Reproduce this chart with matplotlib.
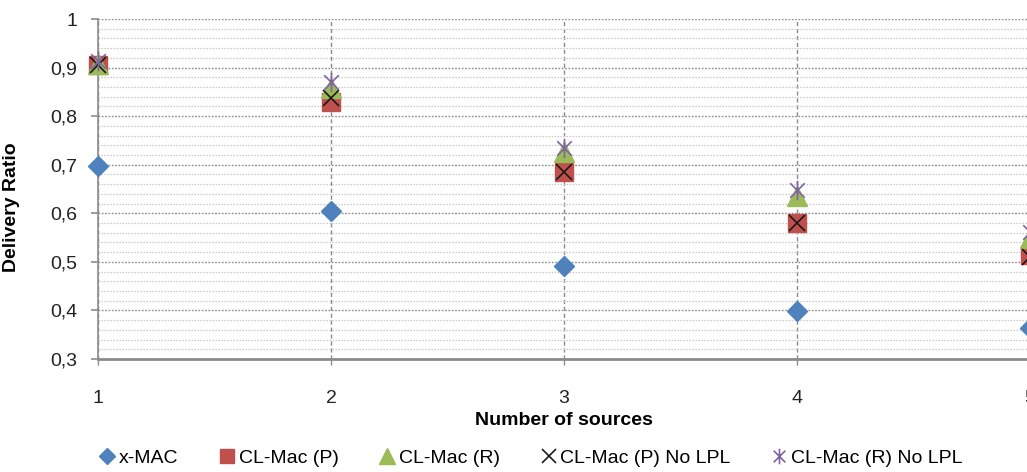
import matplotlib
matplotlib.use("Agg")
import matplotlib.pyplot as plt
from matplotlib.path import Path
from matplotlib.ticker import MultipleLocator, FuncFormatter

plt.rcParams['font.family'] = ['Liberation Sans Narrow', 'Liberation Sans', 'DejaVu Sans']

sources = [1, 2, 3, 4, 5]
xmac = [0.697, 0.604, 0.492, 0.399, 0.363]
clmac_p = [0.905, 0.830, 0.686, 0.581, 0.514]
clmac_r = [0.908, 0.857, 0.727, 0.636, 0.549]
clmac_p_nolpl = [0.905, 0.838, 0.684, 0.581, 0.510]
clmac_r_nolpl = [0.914, 0.871, 0.735, 0.647, 0.562]
series_names = ["x-MAC", "CL-Mac (P)", "CL-Mac (R)", "CL-Mac (P) No LPL", "CL-Mac (R) No LPL"]

W, H = 1027, 472
fig = plt.figure(figsize=(W / 100, H / 100), dpi=100)
left = 98 / W
right = 1030 / W
bottom = (H - 359) / H
top = (H - 19) / H
ax = fig.add_axes([left, bottom, right - left, top - bottom])
ax.set_xlim(1, 5)
ax.set_ylim(0.3, 1.0)

# grid
ax.yaxis.set_major_locator(MultipleLocator(0.1))
ax.yaxis.set_minor_locator(MultipleLocator(0.02))
ax.xaxis.set_major_locator(MultipleLocator(1))
ax.grid(which='major', axis='y', color='#8a8a8a', linestyle=(0, (1.2, 1.2)), linewidth=1.0)
ax.grid(which='minor', axis='y', color='#c8c8c8', linestyle=(0, (1.2, 1.2)), linewidth=0.9)
ax.grid(which='major', axis='x', color='#8a8a8a', linestyle=(0, (3, 2)), linewidth=1.0)
ax.set_axisbelow(True)

for s in ['top', 'right']:
    ax.spines[s].set_visible(False)
ax.spines['left'].set_color('#8c8c8c')
ax.spines['left'].set_linewidth(1.2)
ax.spines['bottom'].set_color('#8c8c8c')
ax.spines['bottom'].set_linewidth(2.0)

ax.yaxis.set_major_formatter(FuncFormatter(lambda v, p: ('%g' % round(v, 2)).replace('.', ',')))
ax.xaxis.set_major_formatter(FuncFormatter(lambda v, p: '%d' % v))
ax.tick_params(axis='y', which='major', direction='out', length=5, width=1.2, color='#8c8c8c',
               labelsize=14, pad=10)
ax.tick_params(axis='y', which='minor', length=0)
ax.tick_params(axis='x', which='major', direction='out', length=4, width=1.0, color='#8c8c8c',
               labelsize=14, pad=18)
for lbl in ax.get_yticklabels() + ax.get_xticklabels():
    lbl.set_color('#222222')

star_path = Path([(0, -1), (0, 1), (-0.75, -0.75), (0.75, 0.75), (-0.75, 0.75), (0.75, -0.75)],
                 [Path.MOVETO, Path.LINETO, Path.MOVETO, Path.LINETO, Path.MOVETO, Path.LINETO])

ax.plot(sources, xmac, linestyle='none', marker='D', markersize=10, color='#4F81BD',
        markeredgecolor='#4F81BD', label=series_names[0], clip_on=False, zorder=3)
ax.plot(sources, clmac_p, linestyle='none', marker='s', markersize=13, color='#C0504D',
        markeredgecolor='#C0504D', label=series_names[1], clip_on=False, zorder=4)
ax.plot(sources, clmac_r, linestyle='none', marker='^', markersize=15, color='#9BBB59',
        markeredgecolor='#9BBB59', label=series_names[2], clip_on=False, zorder=5)
ax.plot(sources, clmac_p_nolpl, linestyle='none', marker='x', markersize=12, color='#1a1a1a',
        markeredgewidth=1.2, label=series_names[3], clip_on=False, zorder=6)
ax.plot(sources, clmac_r_nolpl, linestyle='none', marker=star_path, markersize=14, color='#8064A2',
        markeredgewidth=1.2, label=series_names[4], clip_on=False, zorder=7)

ax.set_xlabel('Number of sources', fontsize=14, fontweight='bold', labelpad=4)
ax.set_ylabel('Delivery Ratio', fontsize=14, fontweight='bold')
ax.yaxis.set_label_coords((20 - 98) / (1030 - 98), (359 - 207) / 340)

leg = fig.legend(loc='center', bbox_to_anchor=(530 / W, 1 - 458 / H), ncol=5, frameon=False,
                 fontsize=14, handletextpad=0.1, columnspacing=2.0, markerscale=0.8,
                 handlelength=1.0)

fig.savefig('out.png', dpi=100)
